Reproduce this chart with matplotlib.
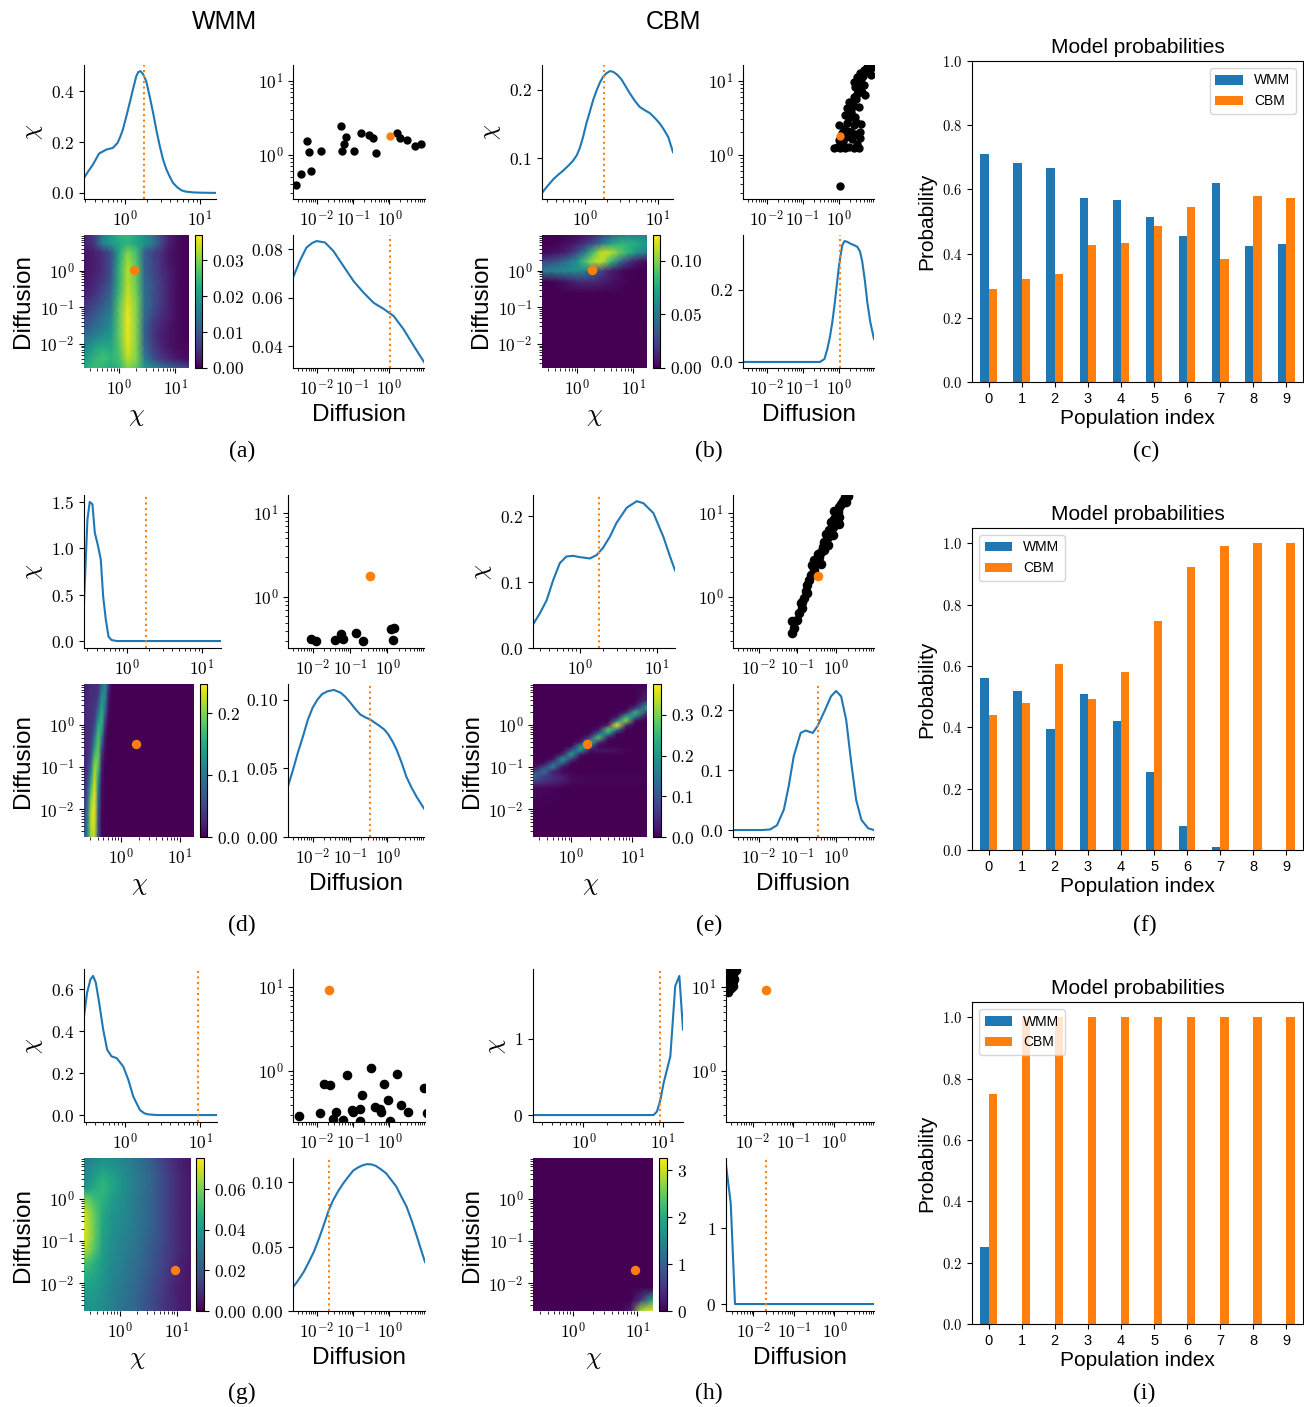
import numpy as np
import matplotlib
matplotlib.use("Agg")
import matplotlib.pyplot as plt
from matplotlib.ticker import FuncFormatter, MultipleLocator, NullFormatter, LogLocator

plt.rcParams["font.family"] = ["Liberation Sans", "DejaVu Sans"]
plt.rcParams["mathtext.fontset"] = "cm"

# ======================= DATA =======================
model_names = ["WMM", "CBM"]
population_index = list(range(10))

# true parameter values (orange markers / dotted lines)
row1_true_chi, row1_true_D = 1.8, 1.05
row2_true_chi, row2_true_D = 1.8, 0.35
row3_true_chi, row3_true_D = 9.3, 0.021

# ---- (a) WMM ----
a_chi = [0.29, 0.33, 0.38, 0.46, 0.57, 0.70, 0.81, 0.88, 0.95, 1.05, 1.17, 1.3, 1.43, 1.52, 1.62, 1.75,
         1.94, 2.15, 2.39, 2.65, 2.93, 3.25, 3.59, 4.0, 4.4, 5.0, 5.7, 6.5, 8.1, 10.0, 16.3]
a_chi_dens = [0.059, 0.085, 0.111, 0.155, 0.170, 0.177, 0.197, 0.222, 0.249, 0.298, 0.354, 0.41, 0.459, 0.475,
              0.479, 0.468, 0.439, 0.38, 0.315, 0.245, 0.184, 0.13, 0.092, 0.062, 0.039, 0.022, 0.010, 0.005,
              0.002, 0.001, 0.0]
a_D = [0.0022, 0.0034, 0.0052, 0.0075, 0.01, 0.017, 0.029, 0.055, 0.105, 0.2, 0.38, 0.72, 1.38, 2.6, 5.0, 9.5]
a_D_dens = [0.0683, 0.0752, 0.0807, 0.0826, 0.0834, 0.0828, 0.0793, 0.0731, 0.0669, 0.0621, 0.0579, 0.0554,
            0.0524, 0.0469, 0.040, 0.0335]
a_scatter_D = [0.0026, 0.0037, 0.0053, 0.0059, 0.0071, 0.013, 0.047, 0.048, 0.055, 0.064, 0.105, 0.163,
               0.28, 0.35, 0.43, 1.57, 1.95, 3.0, 5.2, 7.6]
a_scatter_chi = [0.39, 0.54, 1.51, 1.07, 0.60, 1.13, 2.44, 1.13, 1.40, 1.72, 1.11, 1.98, 1.82, 1.69, 1.05,
                 1.98, 1.67, 1.59, 1.30, 1.40]

# ---- (b) CBM ----
b_chi = [0.26, 0.31, 0.37, 0.43, 0.5, 0.59, 0.69, 0.78, 0.86, 0.95, 1.05, 1.17, 1.3, 1.45, 1.6, 1.78, 1.98,
         2.2, 2.43, 2.75, 3.16, 3.6, 4.1, 4.8, 5.6, 6.6, 7.7, 9.0, 10.5, 12.0, 13.8, 16.0]
b_chi_dens = [0.0498, 0.060, 0.0695, 0.076, 0.0818, 0.089, 0.0966, 0.105, 0.116, 0.132, 0.151, 0.168, 0.185,
              0.199, 0.21, 0.219, 0.224, 0.227, 0.226, 0.222, 0.215, 0.205, 0.195, 0.184, 0.175, 0.170, 0.166,
              0.159, 0.151, 0.142, 0.131, 0.109]
b_D = [0.0022, 0.3, 0.4, 0.48, 0.57, 0.66, 0.78, 0.9, 1.0, 1.12, 1.25, 1.44, 1.7, 2.1, 2.6, 3.27, 3.9, 4.5,
       5.3, 6.2, 7.5, 9.5]
b_D_dens = [0.0, 0.0, 0.008, 0.035, 0.07, 0.109, 0.165, 0.22, 0.26, 0.294, 0.322, 0.334, 0.332, 0.327, 0.323,
            0.318, 0.305, 0.276, 0.225, 0.165, 0.11, 0.063]
b_scatter_D = [0.72, 0.90, 1.11, 1.53, 1.9, 2.6, 3.6, 3.25, 3.86, 4.0, 4.2, 1.0, 1.24, 1.0, 1.38, 1.71, 1.9,
               1.53, 2.12, 1.71, 2.36, 1.9, 2.6, 3.25, 2.9, 3.6, 2.6, 3.25, 4.0, 5.0, 6.2, 8.5, 7.7, 4.5, 5.5,
               5.0, 9.5, 6.9, 2.12, 2.6, 2.9, 3.6, 1.11, 1.3, 1.6, 2.4, 2.9, 3.0, 2.2, 2.7, 3.0, 3.4, 4.2,
               4.6, 5.6, 7.2, 3.8, 1.8]
b_scatter_chi = [1.23, 1.27, 1.24, 1.21, 1.27, 1.24, 1.24, 1.41, 1.70, 2.03, 2.58, 1.57, 1.93, 2.5, 2.25,
                 2.64, 3.08, 3.42, 3.8, 4.2, 4.9, 5.2, 6.1, 6.7, 8.3, 9.2, 9.7, 11.3, 12.6, 14.0, 15.5, 15.8,
                 11.9, 7.1, 6.4, 8.7, 15.5, 14.0, 2.03, 2.5, 3.24, 4.4, 0.38, 1.5, 1.75, 1.6, 1.9, 2.8, 3.5,
                 4.6, 5.6, 7.5, 10.5, 11.5, 13.0, 15.0, 8.0, 2.1]

# ---- (c) ----
c_wmm = [0.71, 0.682, 0.666, 0.573, 0.566, 0.513, 0.454, 0.619, 0.423, 0.429]
c_cbm = [0.289, 0.321, 0.336, 0.426, 0.433, 0.485, 0.545, 0.383, 0.579, 0.573]

# ---- (d) WMM ----
d_chi = [0.272, 0.286, 0.302, 0.324, 0.352, 0.378, 0.419, 0.454, 0.488, 0.53, 0.575, 0.63, 0.74, 17.8]
d_chi_dens = [0.409, 0.842, 1.31, 1.50, 1.475, 1.17, 1.02, 0.878, 0.481, 0.228, 0.047, 0.011, 0.0, 0.0]
d_D = [0.0022, 0.003, 0.004, 0.0055, 0.0074, 0.01, 0.0135, 0.018, 0.025, 0.037, 0.056, 0.075, 0.103, 0.14,
       0.19, 0.26, 0.35, 0.47, 0.64, 0.84, 1.07, 1.4, 1.77, 2.4, 3.2, 4.4, 6.0, 9.5]
d_D_dens = [0.037, 0.049, 0.061, 0.073, 0.085, 0.094, 0.100, 0.104, 0.106, 0.107, 0.105, 0.102, 0.0976, 0.093,
            0.089, 0.087, 0.0854, 0.083, 0.0805, 0.078, 0.0744, 0.069, 0.0634, 0.054, 0.0439, 0.036, 0.0293,
            0.0207]
d_scatter_D = [0.0089, 0.012, 0.04, 0.058, 0.066, 0.148, 0.22, 1.22, 1.5, 1.44]
d_scatter_chi = [0.32, 0.30, 0.31, 0.37, 0.32, 0.38, 0.30, 0.42, 0.43, 0.31]

# ---- (e) CBM ----
e_chi = [0.246, 0.30, 0.37, 0.45, 0.55, 0.67, 0.82, 1.0, 1.35, 1.65, 2.0, 2.46, 3.0, 4.07, 5.5, 6.7, 9.05,
         12.2, 14.9, 17.3]
e_chi_dens = [0.0357, 0.052, 0.0724, 0.103, 0.129, 0.139, 0.14, 0.138, 0.136, 0.141, 0.152, 0.169, 0.19,
              0.213, 0.223, 0.22, 0.205, 0.169, 0.139, 0.118]
e_D = [0.0022, 0.012, 0.02, 0.03, 0.045, 0.06, 0.081, 0.122, 0.165, 0.25, 0.33, 0.5, 0.74, 1.0, 1.35, 1.82,
       2.46, 3.3, 4.5, 6.7, 9.5]
e_D_dens = [0.0, 0.0, 0.001, 0.008, 0.034, 0.073, 0.123, 0.162, 0.166, 0.162, 0.173, 0.198, 0.223, 0.232,
            0.223, 0.184, 0.112, 0.05, 0.017, 0.003, 0.0]
e_scatter_D = [0.074, 0.082, 0.074, 0.1, 0.110, 0.135, 0.122, 0.149, 0.165, 0.182, 0.201, 0.223, 0.272,
               0.246, 0.301, 0.367, 0.406, 0.333, 0.449, 0.496, 0.607, 0.548, 0.670, 0.819, 0.741, 0.905,
               1.0, 1.10, 0.905, 1.22, 1.35, 1.49, 1.65, 2.01, 1.22, 0.607, 0.406, 0.182, 0.135, 0.272,
               0.496, 0.819, 1.22, 1.82]
e_scatter_chi = [0.377, 0.432, 0.517, 0.541, 0.649, 0.743, 0.85, 0.97, 1.17, 1.40, 1.60, 1.83, 2.10, 2.40,
                 2.63, 3.01, 3.44, 3.24, 3.95, 4.52, 5.17, 5.66, 6.20, 6.78, 7.77, 8.50, 9.30, 10.2, 10.6,
                 11.7, 12.8, 14.0, 15.3, 16.0, 7.43, 4.13, 2.51, 1.11, 0.889, 2.75, 3.61, 5.41, 8.89, 13.3]

# ---- (f) ----
f_wmm = [0.56, 0.52, 0.393, 0.508, 0.42, 0.253, 0.077, 0.009, 0.0, 0.0]
f_cbm = [0.44, 0.48, 0.607, 0.492, 0.58, 0.747, 0.923, 0.991, 1.0, 1.0]

# ---- (g) WMM ----
g_chi = [0.282, 0.31, 0.344, 0.373, 0.405, 0.449, 0.508, 0.574, 0.657, 0.767, 0.94, 1.1, 1.28, 1.57, 1.8,
         2.03, 2.63, 16.7]
g_chi_dens = [0.472, 0.584, 0.648, 0.664, 0.632, 0.536, 0.408, 0.312, 0.28, 0.272, 0.232, 0.168, 0.088, 0.024,
              0.008, 0.003, 0.0, 0.0]
g_D = [0.0022, 0.003, 0.0044, 0.006, 0.0083, 0.011, 0.0144, 0.0214, 0.028, 0.038, 0.053, 0.074, 0.1, 0.141,
       0.19, 0.244, 0.32, 0.418, 0.58, 0.80, 1.1, 1.54, 2.1, 2.95, 4.1, 5.7, 7.5, 9.5]
g_D_dens = [0.0184, 0.0235, 0.0306, 0.038, 0.0461, 0.055, 0.0642, 0.0785, 0.086, 0.0927, 0.099, 0.1044, 0.109,
            0.1117, 0.1133, 0.114, 0.1138, 0.1127, 0.110, 0.107, 0.102, 0.0966, 0.089, 0.0811, 0.070, 0.0578,
            0.047, 0.038]
g_scatter_D = [0.0032, 0.0124, 0.0155, 0.0233, 0.0278, 0.0345, 0.0532, 0.069, 0.0917, 0.102, 0.151, 0.158,
               0.176, 0.303, 0.393, 0.556, 0.581, 0.721, 0.897, 1.04, 1.61, 2.05, 3.3, 9.2, 10.9]
g_scatter_chi = [0.296, 0.318, 0.71, 0.678, 0.27, 0.33, 0.265, 0.897, 0.348, 0.33, 0.258, 0.36, 0.517, 1.09,
                 0.377, 0.36, 0.33, 0.697, 0.452, 0.258, 0.93, 0.394, 0.33, 0.637, 0.318]

# ---- (h) CBM ----
h_chi = [0.232, 7.6, 8.4, 9.3, 10.2, 12.4, 14.3, 16.1, 17.9]
h_chi_dens = [0.0, 0.0, 0.044, 0.198, 0.419, 0.771, 1.696, 1.828, 1.123]
h_D = [0.0021, 0.00275, 0.0035, 9.5]
h_D_dens = [1.837, 1.33, 0.0, 0.0]
h_scatter_D = [0.0022, 0.0025, 0.0028, 0.0031, 0.0034, 0.0038, 0.0024, 0.0027, 0.0030, 0.0033, 0.0023,
               0.0026, 0.0029, 0.0032, 0.0035]
h_scatter_chi = [9.0, 10.5, 12.0, 13.5, 15.0, 16.0, 8.6, 11.2, 14.5, 11.8, 13.0, 15.5, 9.8, 10.2, 12.5]

# ---- (i) ----
i_wmm = [0.25, 0, 0, 0, 0, 0, 0, 0, 0, 0]
i_cbm = [0.75, 1.0, 1.0, 1.0, 1.0, 1.0, 1.0, 1.0, 1.0, 1.0]

# ---- 2D posterior maps (values in units of 1e-3) ----
heat_chi = [0.235, 0.355, 0.5, 0.71, 1.0, 1.41, 2.0, 2.8, 4.0, 5.6, 7.9, 11.2, 17.5]
heat_D = [0.0022, 0.004, 0.008, 0.016, 0.032, 0.063, 0.126, 0.25, 0.5, 1.0, 1.78, 3.16, 5.6, 9.5]

a_heat = [
    [22, 25, 24, 22, 24, 30, 28, 20, 18, 15, 12, 10, 8],
    [20, 24, 26, 24, 26, 33, 30, 16, 9, 6, 4, 2, 1],
    [16, 21, 23, 22, 27, 35, 30, 13, 7, 4, 2, 1, 1],
    [13, 16, 18, 20, 28, 36, 30, 12, 6, 3, 2, 1, 0],
    [9, 12, 15, 18, 28, 36, 30, 12, 6, 4, 2, 1, 0],
    [7, 10, 13, 16, 28, 36, 30, 13, 8, 5, 3, 1, 0],
    [5, 7, 10, 14, 27, 35, 30, 14, 9, 6, 3, 1, 0],
    [3, 5, 8, 12, 25, 34, 29, 14, 9, 6, 3, 1, 0],
    [2, 4, 6, 10, 24, 33, 28, 13, 9, 6, 3, 1, 0],
    [2, 3, 5, 9, 24, 33, 28, 12, 8, 5, 3, 1, 0],
    [2, 3, 5, 9, 23, 32, 27, 12, 8, 5, 2, 1, 0],
    [2, 3, 5, 9, 22, 30, 26, 11, 7, 5, 2, 1, 0],
    [3, 6, 16, 20, 22, 24, 22, 19, 15, 8, 3, 1, 0],
    [3, 6, 15, 20, 24, 25, 22, 18, 14, 7, 3, 1, 0],
]
b_heat = [
    [0] * 13, [0] * 13, [0] * 13, [0] * 13, [0] * 13, [0] * 13, [0] * 13, [0] * 13,
    [0, 0, 3, 8, 12, 15, 14, 10, 6, 3, 1, 0, 0],
    [50, 55, 58, 60, 60, 55, 40, 22, 10, 4, 1, 0, 0],
    [25, 30, 38, 50, 65, 90, 110, 110, 80, 45, 20, 8, 3],
    [2, 5, 8, 15, 30, 55, 90, 115, 110, 95, 80, 65, 50],
    [0, 0, 2, 5, 10, 18, 30, 50, 70, 80, 80, 75, 65],
    [0, 0, 0, 2, 4, 8, 15, 25, 40, 50, 55, 55, 55],
]
d_heat_chi = [0.235, 0.27, 0.31, 0.355, 0.41, 0.47, 0.54, 0.62, 0.71, 1.0, 17.5]
d_heat = [
    [60, 110, 210, 220, 60, 5, 0, 0, 0, 0, 0],
    [60, 110, 220, 230, 60, 5, 0, 0, 0, 0, 0],
    [50, 100, 220, 240, 70, 5, 0, 0, 0, 0, 0],
    [40, 80, 200, 240, 90, 8, 0, 0, 0, 0, 0],
    [30, 60, 170, 240, 110, 10, 0, 0, 0, 0, 0],
    [25, 45, 120, 220, 150, 15, 0, 0, 0, 0, 0],
    [25, 35, 80, 200, 190, 25, 0, 0, 0, 0, 0],
    [25, 30, 50, 150, 190, 50, 5, 0, 0, 0, 0],
    [25, 30, 40, 90, 180, 110, 10, 0, 0, 0, 0],
    [25, 30, 35, 50, 150, 160, 30, 0, 0, 0, 0],
    [25, 30, 35, 40, 100, 160, 60, 5, 0, 0, 0],
    [25, 30, 35, 35, 60, 140, 100, 10, 0, 0, 0],
    [20, 25, 30, 30, 40, 110, 120, 20, 0, 0, 0],
    [20, 25, 30, 30, 35, 80, 120, 30, 0, 0, 0],
]
e_heat_D = [0.0022, 0.01, 0.032, 0.04, 0.05, 0.063, 0.079, 0.1, 0.126, 0.158, 0.2, 0.25, 0.316, 0.4, 0.5,
            0.63, 0.79, 1.0, 1.26, 1.58, 2.0, 2.5, 3.16, 4.0, 9.5]
e_heat = [
    [0] * 13,
    [0] * 13,
    [8, 6, 4, 2, 1, 1, 1, 1, 1, 1, 1, 1, 1],
    [40, 35, 25, 15, 6, 4, 3, 3, 3, 3, 3, 3, 3],
    [90, 60, 45, 30, 12, 6, 5, 5, 5, 5, 5, 5, 5],
    [130, 70, 45, 30, 10, 4, 3, 3, 3, 3, 3, 3, 3],
    [60, 140, 35, 8, 2, 0, 0, 0, 0, 0, 0, 0, 0],
    [10, 80, 160, 15, 0, 0, 0, 0, 0, 0, 0, 0, 0],
    [0, 10, 110, 120, 5, 0, 0, 0, 0, 0, 0, 0, 0],
    [0, 0, 15, 200, 70, 0, 0, 0, 0, 0, 0, 0, 0],
    [0, 0, 0, 40, 220, 20, 0, 0, 0, 0, 0, 0, 0],
    [0, 0, 0, 3, 100, 190, 20, 20, 20, 15, 5, 0, 0],
    [0, 0, 0, 0, 10, 200, 110, 5, 3, 2, 0, 0, 0],
    [0, 0, 0, 0, 0, 30, 250, 60, 0, 0, 0, 0, 0],
    [0, 0, 0, 0, 0, 0, 70, 270, 20, 0, 0, 0, 0],
    [0, 0, 0, 0, 0, 0, 5, 140, 200, 10, 0, 0, 0],
    [0, 0, 0, 0, 0, 0, 0, 20, 280, 150, 0, 0, 0],
    [0, 0, 0, 0, 0, 0, 0, 0, 40, 370, 50, 0, 0],
    [0, 0, 0, 0, 0, 0, 0, 0, 0, 170, 300, 10, 0],
    [0, 0, 0, 0, 0, 0, 0, 0, 0, 20, 250, 150, 0],
    [0, 0, 0, 0, 0, 0, 0, 0, 0, 0, 40, 250, 60],
    [0, 0, 0, 0, 0, 0, 0, 0, 0, 0, 0, 70, 200],
    [0, 0, 0, 0, 0, 0, 0, 0, 0, 0, 0, 10, 150],
    [0, 0, 0, 0, 0, 0, 0, 0, 0, 0, 0, 0, 40],
    [0] * 13,
]
g_heat = [
    [38, 38, 36, 33, 30, 27, 24, 20, 16, 12, 9, 6, 4],
    [40, 40, 37, 33, 30, 27, 24, 20, 16, 12, 9, 6, 4],
    [44, 42, 38, 34, 31, 28, 25, 21, 17, 13, 9, 6, 4],
    [48, 45, 40, 35, 32, 29, 26, 22, 18, 14, 10, 7, 4],
    [55, 48, 41, 36, 33, 30, 27, 23, 19, 15, 11, 7, 4],
    [68, 55, 42, 37, 34, 31, 28, 24, 20, 16, 12, 8, 5],
    [72, 58, 43, 38, 35, 32, 29, 25, 21, 17, 12, 8, 5],
    [72, 58, 44, 39, 36, 33, 30, 26, 22, 17, 12, 8, 5],
    [70, 57, 46, 40, 37, 34, 30, 26, 22, 17, 12, 8, 5],
    [60, 52, 48, 42, 38, 34, 30, 26, 22, 17, 12, 8, 5],
    [40, 46, 50, 45, 40, 35, 31, 27, 22, 17, 12, 8, 5],
    [35, 42, 48, 44, 40, 35, 31, 27, 22, 17, 12, 8, 5],
    [33, 38, 42, 40, 37, 34, 30, 26, 21, 16, 11, 7, 4],
    [30, 34, 37, 36, 34, 31, 28, 24, 19, 15, 10, 7, 4],
]
h_heat = [[0] * 13 for _ in range(14)]
h_heat[0] = [0, 0, 0, 0, 0, 0, 0, 0, 0, 0, 300, 2800, 3200]
h_heat[1] = [0, 0, 0, 0, 0, 0, 0, 0, 0, 0, 0, 500, 2000]

# colour-bar maxima
a_vmax, b_vmax, d_vmax, e_vmax, g_vmax, h_vmax = 0.037, 0.124, 0.247, 0.376, 0.0754, 3.26

# ======================= FIGURE =======================
W, H = 1304, 1407
fig = plt.figure(figsize=(W / 100, H / 100), dpi=100)

D_RANGE = (0.0022, 9.5)
CHI_SC_RANGE = (0.25, 16.3)
TICK_FS = 12.5


def add_ax(l, t, r, b):
    return fig.add_axes([l / W, 1 - b / H, (r - l) / W, (b - t) / H])


def log_fmt(v, pos):
    if v <= 0:
        return ""
    return r"$10^{%d}$" % int(round(np.log10(v)))


def lin_fmt(dec):
    return FuncFormatter(lambda v, pos: r"$%.*f$" % (dec, 0.0 if abs(v) < 1e-12 else v))


def set_log(axis):
    axis.set_major_locator(LogLocator(base=10, numticks=15))
    axis.set_minor_locator(LogLocator(base=10, subs=np.arange(2, 10), numticks=15))
    axis.set_major_formatter(FuncFormatter(log_fmt))
    axis.set_minor_formatter(NullFormatter())


def density(ax, xs, ys, truth, step, dec, bottom0=False, ylabel=None, xlabel=None):
    ax.plot(xs, ys, color="C0", lw=1.5)
    ax.axvline(truth, color="C1", ls=":", lw=1.5)
    ax.set_xscale("log")
    ax.set_xlim(xs[0], xs[-1])
    if bottom0:
        ax.set_ylim(bottom=0)
    set_log(ax.xaxis)
    ax.yaxis.set_major_locator(MultipleLocator(step))
    ax.yaxis.set_major_formatter(lin_fmt(dec))
    ax.spines[["top", "right"]].set_visible(False)
    ax.tick_params(labelsize=TICK_FS)
    if ylabel:
        ax.set_ylabel(ylabel, fontsize=17)
    if xlabel:
        ax.set_xlabel(xlabel, fontsize=17.5)


def scatter(ax, D, chi, tD, tchi, s):
    ax.scatter(D, chi, s=s, c="k", zorder=2)
    ax.scatter([tD], [tchi], s=s, c="C1", zorder=3)
    ax.set_xscale("log")
    ax.set_yscale("log")
    ax.set_xlim(*D_RANGE)
    ax.set_ylim(*CHI_SC_RANGE)
    set_log(ax.xaxis)
    set_log(ax.yaxis)
    ax.spines[["top", "right"]].set_visible(False)
    ax.tick_params(labelsize=TICK_FS)


def heat(ax, cax, chi_nodes, D_nodes, Z, vmax, tchi, tD, step, dec):
    X, Y = np.meshgrid(chi_nodes, D_nodes)
    C = np.asarray(Z, float) * 1e-3
    m = ax.pcolormesh(X, Y, C, shading="gouraud", cmap="viridis", vmin=0, vmax=vmax)
    ax.scatter([tchi], [tD], s=33, c="C1", zorder=3)
    ax.set_xscale("log")
    ax.set_yscale("log")
    ax.set_xlim(chi_nodes[0], chi_nodes[-1])
    ax.set_ylim(D_nodes[0], D_nodes[-1])
    set_log(ax.xaxis)
    set_log(ax.yaxis)
    for sp in ax.spines.values():
        sp.set_visible(False)
    ax.tick_params(labelsize=TICK_FS)
    ax.set_xlabel(r"$\chi$", fontsize=18)
    ax.set_ylabel("Diffusion", fontsize=17.5)
    cb = fig.colorbar(m, cax=cax)
    cb.locator = MultipleLocator(step)
    cb.formatter = lin_fmt(dec)
    cb.update_ticks()
    cax.tick_params(labelsize=TICK_FS)


def bars(ax, wmm, cbm, loc, ytop=None):
    x = np.arange(len(population_index))
    ax.bar(x - 0.125, wmm, 0.25, color="C0", label=model_names[0])
    ax.bar(x + 0.125, cbm, 0.25, color="C1", label=model_names[1])
    ax.set_xlim(-0.5, len(population_index) - 0.5)
    if ytop is not None:
        ax.set_ylim(0, ytop)
    ax.set_xticks(x)
    ax.set_xticklabels([str(p) for p in population_index])
    ax.yaxis.set_major_locator(MultipleLocator(0.2))
    ax.yaxis.set_major_formatter(lin_fmt(1))
    ax.tick_params(labelsize=10.5)
    ax.set_title("Model probabilities", fontsize=15)
    ax.set_xlabel("Population index", fontsize=15, labelpad=2)
    ax.set_ylabel("Probability", fontsize=15)
    ax.legend(loc=loc, fontsize=10)


CHI = r"$\chi$"

# ---------- row 1 ----------
density(add_ax(84, 65, 216, 199), a_chi, a_chi_dens, row1_true_chi, 0.2, 1, ylabel=CHI)
scatter(add_ax(293, 65, 425, 199), a_scatter_D, a_scatter_chi, row1_true_D, row1_true_chi, 25)
heat(add_ax(84, 235, 189, 368), add_ax(195, 235, 202, 368), heat_chi, heat_D, a_heat, a_vmax,
     row1_true_chi, row1_true_D, 0.01, 2)
density(add_ax(293, 235, 424, 368), a_D, a_D_dens, row1_true_D, 0.02, 2, xlabel="Diffusion")

density(add_ax(542, 65, 673, 199), b_chi, b_chi_dens, row1_true_chi, 0.1, 1, ylabel=CHI)
scatter(add_ax(743, 65, 874, 199), b_scatter_D, b_scatter_chi, row1_true_D, row1_true_chi, 25)
heat(add_ax(542, 235, 647, 368), add_ax(653, 235, 660, 368), heat_chi, heat_D, b_heat, b_vmax,
     row1_true_chi, row1_true_D, 0.05, 2)
density(add_ax(743, 235, 874, 368), b_D, b_D_dens, row1_true_D, 0.2, 1, xlabel="Diffusion")

bars(add_ax(972, 61, 1303, 382), c_wmm, c_cbm, "upper right", ytop=1.0)

# ---------- row 2 ----------
density(add_ax(84, 495, 221, 648), d_chi, d_chi_dens, row2_true_chi, 0.5, 1, ylabel=CHI)
scatter(add_ax(288, 495, 424, 648), d_scatter_D, d_scatter_chi, row2_true_D, row2_true_chi, 35)
heat(add_ax(84, 684, 194, 837), add_ax(200, 684, 207, 837), d_heat_chi, heat_D, d_heat, d_vmax,
     row2_true_chi, row2_true_D, 0.1, 1)
density(add_ax(288, 684, 424, 837), d_D, d_D_dens, row2_true_D, 0.05, 2, bottom0=True, xlabel="Diffusion")

density(add_ax(533, 495, 675, 648), e_chi, e_chi_dens, row2_true_chi, 0.1, 1, bottom0=True, ylabel=CHI)
scatter(add_ax(733, 495, 874, 648), e_scatter_D, e_scatter_chi, row2_true_D, row2_true_chi, 35)
heat(add_ax(533, 684, 647, 837), add_ax(653, 684, 661, 837), heat_chi, e_heat_D, e_heat, e_vmax,
     row2_true_chi, row2_true_D, 0.1, 1)
density(add_ax(733, 684, 874, 837), e_D, e_D_dens, row2_true_D, 0.1, 1, xlabel="Diffusion")

bars(add_ax(972, 528, 1303, 850), f_wmm, f_cbm, "upper left")

# ---------- row 3 ----------
density(add_ax(84, 969, 217, 1122), g_chi, g_chi_dens, row3_true_chi, 0.2, 1, ylabel=CHI)
scatter(add_ax(293, 969, 425, 1122), g_scatter_D, g_scatter_chi, row3_true_D, row3_true_chi, 35)
heat(add_ax(84, 1158, 191, 1311), add_ax(196, 1158, 204, 1311), heat_chi, heat_D, g_heat, g_vmax,
     row3_true_chi, row3_true_D, 0.02, 2)
density(add_ax(293, 1158, 425, 1311), g_D, g_D_dens, row3_true_D, 0.05, 2, bottom0=True, xlabel="Diffusion")

density(add_ax(533, 969, 683, 1122), h_chi, h_chi_dens, row3_true_chi, 1, 0, ylabel=CHI)
scatter(add_ax(726, 969, 874, 1122), h_scatter_D, h_scatter_chi, row3_true_D, row3_true_chi, 35)
heat(add_ax(533, 1158, 653, 1311), add_ax(659, 1158, 667, 1311), heat_chi, heat_D, h_heat, h_vmax,
     row3_true_chi, row3_true_D, 1, 0)
density(add_ax(726, 1158, 874, 1311), h_D, h_D_dens, row3_true_D, 1, 0, xlabel="Diffusion")

bars(add_ax(972, 1002, 1303, 1324), i_wmm, i_cbm, "upper left")

# ---------- headers and panel letters ----------
fig.text(224 / W, 1 - 22 / H, model_names[0], ha="center", va="center", fontsize=18)
fig.text(673 / W, 1 - 22 / H, model_names[1], ha="center", va="center", fontsize=18)

for lab, (x, y) in zip("abcdefghi", [(242, 451), (709, 451), (1146, 451),
                                     (242, 925), (709, 925), (1145, 925),
                                     (242, 1393), (709, 1393), (1144, 1393)]):
    fig.text(x / W, 1 - y / H, "(%s)" % lab, ha="center", va="center",
             fontsize=17, family=["Liberation Serif", "DejaVu Serif"])

fig.savefig("out.png", dpi=100)
